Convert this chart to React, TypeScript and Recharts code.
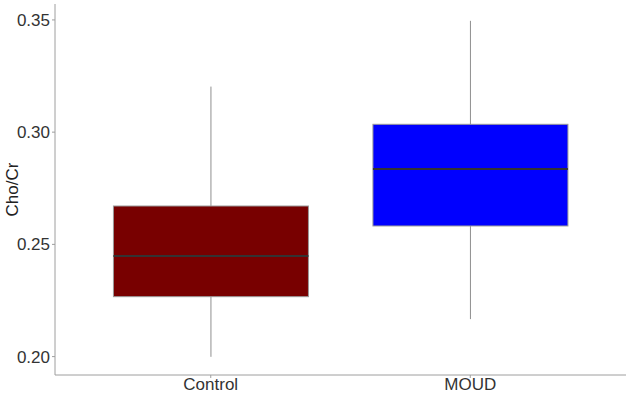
import { ComposedChart, Bar, XAxis, YAxis } from 'recharts'

// box plot summary per group
const groups = ['Control', 'MOUD']
const mins = [0.1999, 0.2167]
const q1s = [0.2267, 0.2582]
const medians = [0.2448, 0.2836]
const q3s = [0.2671, 0.3035]
const maxs = [0.3203, 0.3496]
const yTicks = [0.2, 0.25, 0.3, 0.35]

const fills = ['#780000', '#0000ff']
const FONT = '"Liberation Sans", Arial, sans-serif'

const data = groups.map((name, i) => ({
  name,
  min: mins[i],
  q1: q1s[i],
  median: medians[i],
  q3: q3s[i],
  max: maxs[i],
}))

function Whisker(props: any) {
  const { x, y, width, height } = props
  const cx = x + width / 2
  return <line x1={cx} x2={cx} y1={y} y2={y + height} stroke="#8f8f8f" strokeWidth={1} />
}

function Box(props: any) {
  const { x, y, width, height, payload, index } = props
  const my = y + (height * (payload.q3 - payload.median)) / (payload.q3 - payload.q1)
  return (
    <g>
      <rect x={x} y={y} width={width} height={height} fill={fills[index]} stroke="#9a9a9a" strokeWidth={1} />
      <line x1={x} x2={x + width} y1={my} y2={my} stroke="#333333" strokeWidth={2} />
    </g>
  )
}

export default function App() {
  const tick = { fill: '#333333', fontSize: 17, fontFamily: FONT }
  return (
    <div style={{ width: 630, height: 393 }}>
      <style>{`body{margin:0}`}</style>
      <ComposedChart width={630} height={393} data={data} margin={{ top: 4, right: 4, bottom: 0, left: 0 }} barCategoryGap="12.5%">
        <XAxis
          xAxisId="box"
          dataKey="name"
          type="category"
          padding={{ left: 26, right: 26 }}
          height={18}
          tickSize={3}
          tickMargin={0}
          axisLine={{ stroke: '#9e9e9e' }}
          tickLine={{ stroke: '#9e9e9e' }}
          tick={tick}
        />
        <XAxis xAxisId="whisker" dataKey="name" type="category" padding={{ left: 26, right: 26 }} hide />
        <YAxis
          type="number"
          domain={[0.1918, 0.3571]}
          ticks={yTicks}
          allowDataOverflow
          width={55}
          tickSize={3}
          tickMargin={2}
          tickFormatter={(v: number) => v.toFixed(2)}
          axisLine={{ stroke: '#9e9e9e' }}
          tickLine={{ stroke: '#9e9e9e' }}
          tick={tick}
          label={{
            value: 'Cho/Cr',
            angle: -90,
            position: 'insideLeft',
            offset: 12,
            style: { textAnchor: 'middle', fill: '#222222', fontSize: 17, fontFamily: FONT },
          }}
        />
        <Bar xAxisId="whisker" dataKey={(d: any) => [d.min, d.max]} shape={<Whisker />} isAnimationActive={false} />
        <Bar xAxisId="box" dataKey={(d: any) => [d.q1, d.q3]} shape={<Box />} isAnimationActive={false} />
      </ComposedChart>
    </div>
  )
}
